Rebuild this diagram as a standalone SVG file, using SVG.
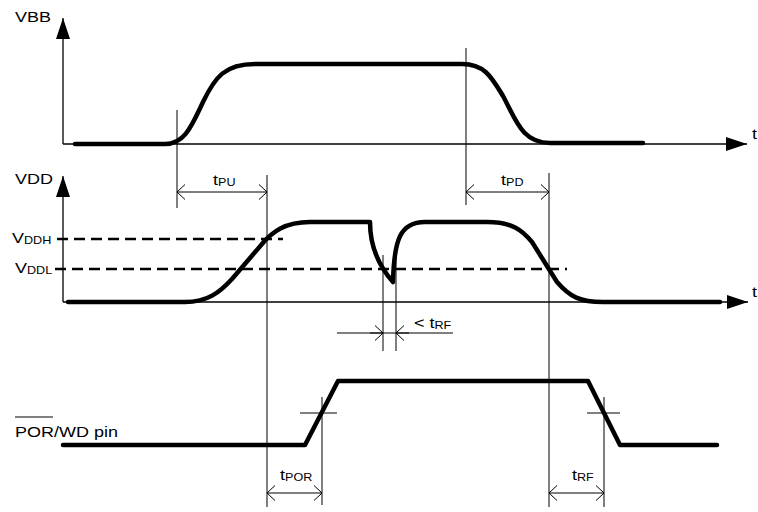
<svg xmlns="http://www.w3.org/2000/svg" width="758" height="512" viewBox="0 0 758 512">
<defs>
<style>
.axis{fill:none;stroke:#000;stroke-width:1.3}
.thin{fill:none;stroke:#000;stroke-width:1}
.wave{fill:none;stroke:#000;stroke-width:4.5;stroke-linecap:round;stroke-linejoin:round}
.dash{fill:none;stroke:#000;stroke-width:2.5;stroke-dasharray:11 6}
.dim{fill:none;stroke:#000;stroke-width:1;marker-start:url(#open);marker-end:url(#open)}
.dim1{fill:none;stroke:#000;stroke-width:1;marker-end:url(#open)}
text{font-family:"Liberation Sans",Arial,sans-serif;font-size:15px;fill:#000}
.sub{font-size:10.5px}
</style>
<marker id="solid" viewBox="-21 -7 22 14" refX="0" refY="0" markerUnits="userSpaceOnUse" markerWidth="22" markerHeight="14" orient="auto">
<path d="M0,0 L-21,-7 L-21,7 Z" fill="#000"/>
</marker>
<marker id="open" viewBox="-10 -9 12 18" refX="0" refY="0" markerUnits="userSpaceOnUse" markerWidth="12" markerHeight="18" orient="auto-start-reverse">
<path d="M-8,-7.5 L0,0 L-8,7.5" fill="none" stroke="#000" stroke-width="1"/>
</marker>
</defs>
<rect width="758" height="512" fill="#fff"/>

<g id="vbb">
<path class="axis" d="M63,144 V18" marker-end="url(#solid)"/>
<path class="axis" d="M63,144 H747" marker-end="url(#solid)"/>
<path class="wave" d="M75,144 L165,144 C185,144 192,125 203,102 C215,77 225,64 255,64 L462,64 C485,64 492,78 503,96 C516,120 522,143 550,143 L643,143"/>
<g transform="translate(15,22) scale(1.2,1)"><text x="0" y="0">VBB</text></g>
<g transform="translate(752,139) scale(1.2,1)"><text x="0" y="0">t</text></g>
</g>

<g id="vdd">
<path class="axis" d="M63,302 V176" marker-end="url(#solid)"/>
<path class="axis" d="M63,302 H748" marker-end="url(#solid)"/>
<path class="dash" d="M57,239 H283"/>
<path class="dash" d="M55,269 H567"/>
<path class="wave" d="M68,302 L185,302 C208,302 220,292 232,279 L262,244 C272,232 285,222 310,222 L370,222 C370,245 378,265 393,282 C394,240 400,222 425,222 L487,222 C512,222 522,230 532,242 L557,282 C570,297 580,302 603,302 L720,302"/>
<g transform="translate(15,184) scale(1.2,1)"><text x="0" y="0">VDD</text></g>
<g transform="translate(12,243) scale(1.2,1)"><text x="0" y="0">V<tspan class="sub" dy="1">DDH</tspan></text></g>
<g transform="translate(15,273) scale(1.2,1)"><text x="0" y="0">V<tspan class="sub" dy="1">DDL</tspan></text></g>
<g transform="translate(752,297) scale(1.2,1)"><text x="0" y="0">t</text></g>
</g>

<g id="por">
<path class="wave" d="M63,445 L305,445 L338,381 L588,381 L620,445 L717,445"/>
<g transform="translate(15,437) scale(1.2,1)"><text x="0" y="0">POR/WD pin</text></g>
<path class="thin" d="M15,417 H53"/>
</g>

<g id="connectors">
<path class="thin" d="M177,110 V208"/>
<path class="thin" d="M267,175 V507"/>
<path class="thin" d="M466,48 V205"/>
<path class="thin" d="M549,173 V507"/>
<path class="thin" d="M383,255 V351"/>
<path class="thin" d="M396,255 V351"/>
<path class="thin" d="M322,397 V505"/>
<path class="thin" d="M604,397 V507"/>
<path class="thin" d="M300,413 H337"/>
<path class="thin" d="M587,413 H620"/>
<path class="dim" d="M177,192 H267"/>
<path class="dim" d="M466,192 H549"/>
<path class="dim" d="M267,493 H322"/>
<path class="dim" d="M549,493 H604"/>
<path class="thin" d="M337,333 H453"/>
<path class="dim1" d="M370,333 H383"/>
<path class="dim1" d="M409,333 H396"/>
</g>

<g id="labels">
<g transform="translate(213,185) scale(1.2,1)"><text x="0" y="0">t<tspan class="sub" dy="1">PU</tspan></text></g>
<g transform="translate(501,185) scale(1.2,1)"><text x="0" y="0">t<tspan class="sub" dy="1">PD</tspan></text></g>
<g transform="translate(414,328) scale(1.2,1)"><text x="0" y="0">&lt; t<tspan class="sub" dy="1">RF</tspan></text></g>
<g transform="translate(280,480) scale(1.2,1)"><text x="0" y="0">t<tspan class="sub" dy="1">POR</tspan></text></g>
<g transform="translate(572,480) scale(1.2,1)"><text x="0" y="0">t<tspan class="sub" dy="1">RF</tspan></text></g>
</g>
</svg>
